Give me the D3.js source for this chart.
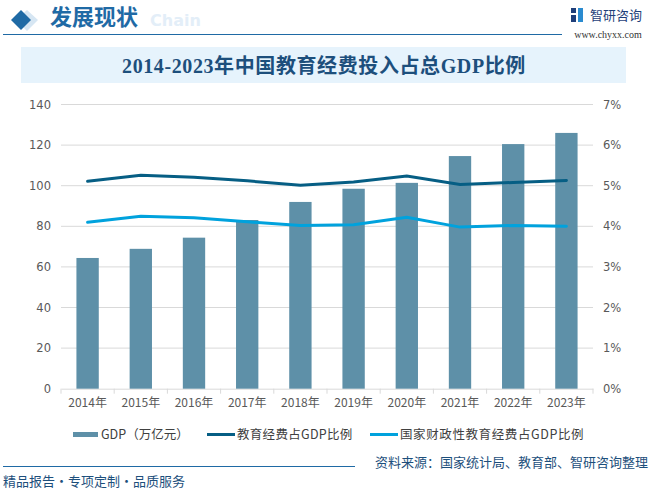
<!DOCTYPE html>
<html><head><meta charset="utf-8">
<script src="https://cdn.jsdelivr.net/npm/d3@7"></script>
<style>body{margin:0;background:#fff}svg{display:block}</style>
</head><body><svg id="c" width="651" height="491"></svg>
<script>
const years = ["2014年","2015年","2016年","2017年","2018年","2019年","2020年","2021年","2022年","2023年"];
const gdp = [64.4, 68.9, 74.4, 83.1, 92.0, 98.5, 101.4, 114.6, 120.5, 126.0];
const eduRatio = [5.11, 5.26, 5.21, 5.12, 5.01, 5.09, 5.24, 5.03, 5.08, 5.13];
const fiscalRatio = [4.10, 4.25, 4.21, 4.11, 4.02, 4.04, 4.22, 3.98, 4.02, 4.00];
const leftTicks = [0,20,40,60,80,100,120,140];
const rightTicks = [0,1,2,3,4,5,6,7];
const seriesNames = ["GDP（万亿元）","教育经费占GDP比例","国家财政性教育经费占GDP比例"];

const svg = d3.select("#c");
const cjk = "'Noto Sans CJK SC','DejaVu Sans',sans-serif";
const barColor = "#5e90a8", darkLine = "#065e84", lightLine = "#00a2dd", headBlue = "#1f6aa5";

// Header
const hdr = svg.append("g");
hdr.append("path").attr("d","M27,10 L38,20 L27,31 L16,20Z").attr("fill","#d6e6f3");
hdr.append("path").attr("d","M21,10 L31,20 L21,30 L11,20Z").attr("fill",headBlue);
hdr.append("text").attr("x",150).attr("y",26).text("Chain")
  .attr("font-family","'DejaVu Sans',sans-serif").attr("font-weight","bold").attr("font-size",16).attr("fill","#e3eef8");
hdr.append("text").attr("x",50).attr("y",25).text("发展现状")
  .attr("font-family",cjk).attr("font-weight","bold").attr("font-size",22).attr("fill",headBlue);
hdr.append("line").attr("x1",3).attr("x2",562).attr("y1",34.5).attr("y2",34.5).attr("stroke",headBlue).attr("stroke-width",1.2);
// logo
const lg = hdr.append("g").attr("transform","translate(571,8)");
lg.append("rect").attr("x",0).attr("y",0).attr("width",5).attr("height",5).attr("fill","#1f3f7a");
lg.append("rect").attr("x",0).attr("y",7).attr("width",5).attr("height",7).attr("fill","#1f3f7a");
lg.append("rect").attr("x",7).attr("y",0).attr("width",5).attr("height",14).attr("fill","#2a8bd0");
hdr.append("text").attr("x",590).attr("y",20).text("智研咨询")
  .attr("font-family",cjk).attr("font-size",13).attr("fill","#1f3f7a");
hdr.append("text").attr("x",608).attr("y",38).attr("text-anchor","middle").text("www.chyxx.com")
  .attr("font-family","'Liberation Serif',serif").attr("font-size",10).attr("fill","#333");

// Title box
svg.append("rect").attr("x",21).attr("y",47).attr("width",605).attr("height",36).attr("fill","#e6f3fc");
svg.append("text").attr("x",324).attr("y",73).attr("text-anchor","middle")
  .text("2014-2023年中国教育经费投入占总GDP比例")
  .attr("font-family","'Liberation Serif','Noto Sans CJK SC',serif").attr("font-weight","bold")
  .attr("font-size",20).attr("letter-spacing",0.6).attr("fill","#1d4f7c");

// Chart
const m = {l:61, r:593, t:104.5, b:388.7};
const x = d3.scaleBand().domain(years).range([m.l,m.r]);
const yL = d3.scaleLinear().domain([0,140]).range([m.b,m.t]);
const yR = d3.scaleLinear().domain([0,7]).range([m.b,m.t]);

svg.append("g").selectAll("line").data(leftTicks.slice(1)).join("line")
  .attr("x1",m.l).attr("x2",m.r).attr("y1",d=>yL(d)).attr("y2",d=>yL(d))
  .attr("stroke","#d9d9d9").attr("stroke-width",1);

const axL = svg.append("g").attr("transform",`translate(${m.l},0)`)
  .call(d3.axisLeft(yL).tickValues(leftTicks).tickSize(0).tickPadding(10));
axL.select(".domain").remove();
axL.selectAll("text").attr("font-family","'DejaVu Sans',sans-serif").attr("font-size",11.5).attr("fill","#595959");

const axR = svg.append("g").attr("transform",`translate(${m.r},0)`)
  .call(d3.axisRight(yR).tickValues(rightTicks).tickFormat(d=>d+"%").tickSize(0).tickPadding(10));
axR.select(".domain").remove();
axR.selectAll("text").attr("font-family","'DejaVu Sans',sans-serif").attr("font-size",11.5).attr("fill","#595959");

const axB = svg.append("g").attr("transform",`translate(0,${m.b})`)
  .call(d3.axisBottom(x).tickSize(0).tickPadding(10));
axB.select(".domain").attr("stroke","#d9d9d9");
axB.selectAll("text").attr("font-family",cjk).attr("font-size",12).attr("fill","#595959");
svg.append("g").selectAll("line").data(d3.range(years.length+1)).join("line")
  .attr("x1",i=>m.l+i*x.step()).attr("x2",i=>m.l+i*x.step())
  .attr("y1",m.b).attr("y2",m.b+5).attr("stroke","#d9d9d9");

const bw = x.bandwidth()*0.42;
svg.append("g").selectAll("rect").data(gdp).join("rect")
  .attr("x",(d,i)=>x(years[i])+x.bandwidth()/2-bw/2).attr("width",bw)
  .attr("y",d=>yL(d)).attr("height",d=>m.b-yL(d)).attr("fill",barColor);

const line = d3.line().x((d,i)=>x(years[i])+x.bandwidth()/2).y(d=>yR(d));
svg.append("path").datum(eduRatio).attr("d",line).attr("fill","none").attr("stroke",darkLine).attr("stroke-width",3).attr("stroke-linecap","round");
svg.append("path").datum(fiscalRatio).attr("d",line).attr("fill","none").attr("stroke",lightLine).attr("stroke-width",3).attr("stroke-linecap","round");

// Legend
const leg = svg.append("g").attr("font-family",cjk).attr("font-size",12.5).attr("fill","#404040");
leg.append("rect").attr("x",73).attr("y",432).attr("width",25).attr("height",5).attr("fill",barColor);
leg.append("text").attr("x",101).attr("y",439).text(seriesNames[0]);
leg.append("line").attr("x1",207).attr("x2",235).attr("y1",434.5).attr("y2",434.5).attr("stroke",darkLine).attr("stroke-width",3);
leg.append("text").attr("x",237).attr("y",439).attr("letter-spacing",0.3).text(seriesNames[1]);
leg.append("line").attr("x1",370).attr("x2",398).attr("y1",434.5).attr("y2",434.5).attr("stroke",lightLine).attr("stroke-width",3);
leg.append("text").attr("x",400).attr("y",439).attr("letter-spacing",0.6).text(seriesNames[2]);

// Footer
svg.append("line").attr("x1",3).attr("x2",355).attr("y1",466.5).attr("y2",466.5).attr("stroke",headBlue).attr("stroke-width",1.2);
svg.append("text").attr("x",648).attr("y",467).attr("text-anchor","end").text("资料来源：国家统计局、教育部、智研咨询整理")
  .attr("font-family",cjk).attr("font-size",13).attr("fill","#1d4f7c");
svg.append("text").attr("x",3).attr("y",486).text("精品报告・专项定制・品质服务")
  .attr("font-family",cjk).attr("font-size",13).attr("fill","#1d4f7c");
</script></body></html>
